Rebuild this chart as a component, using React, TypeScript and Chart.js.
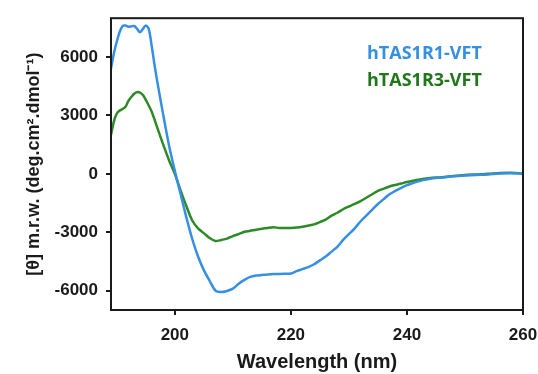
import React, { useEffect, useRef } from "react";
import { Chart, registerables } from "chart.js";

Chart.register(...registerables);

const r1Wavelength = [189, 189.5, 190, 190.5, 191, 191.5, 192, 192.5, 193, 193.5, 194, 194.5, 195, 195.5, 196, 196.5, 197, 198, 199, 200, 201, 202, 203, 204, 205, 206, 207, 208, 209, 210, 211, 212, 213, 214, 215, 216, 217, 218, 219, 220, 221, 222, 223, 224, 225, 226, 227, 228, 229, 230, 231, 232, 233, 234, 235, 236, 237, 238, 239, 240, 241, 242, 243, 244, 246, 248, 250, 252, 254, 256, 258, 260];
const r1Values = [5400, 6200, 6800, 7300, 7600, 7620, 7560, 7580, 7600, 7450, 7280, 7450, 7630, 7450, 6600, 5600, 4700, 3030, 1460, 150, -1050, -2250, -3350, -4250, -4950, -5500, -6000, -6080, -6020, -5900, -5650, -5450, -5300, -5230, -5200, -5170, -5150, -5150, -5140, -5120, -5000, -4900, -4800, -4650, -4450, -4250, -4000, -3750, -3400, -3100, -2800, -2450, -2150, -1850, -1550, -1300, -1050, -880, -720, -580, -480, -390, -310, -250, -190, -130, -90, -60, -30, 20, 30, 0];

const r3Wavelength = [189, 189.5, 190, 190.5, 191, 191.5, 192, 192.5, 193, 193.5, 194, 194.5, 195, 196, 197, 198, 199, 200, 201, 202, 203, 204, 205, 206, 207, 208, 209, 210, 211, 212, 213, 214, 215, 216, 217, 218, 219, 220, 221, 222, 223, 224, 225, 226, 227, 228, 229, 230, 231, 232, 233, 234, 235, 236, 237, 238, 239, 240, 241, 242, 243, 244, 246, 248, 250, 252, 254, 256, 258, 260];
const r3Values = [2000, 2700, 3100, 3250, 3330, 3450, 3750, 3950, 4120, 4200, 4170, 4050, 3800, 3200, 2350, 1500, 700, 0, -860, -1670, -2400, -2800, -3050, -3300, -3450, -3400, -3330, -3200, -3100, -2980, -2930, -2870, -2820, -2780, -2750, -2780, -2780, -2780, -2760, -2720, -2660, -2600, -2480, -2350, -2150, -2000, -1820, -1680, -1550, -1400, -1230, -1050, -880, -760, -650, -570, -500, -420, -360, -300, -250, -210, -170, -110, -60, -30, 0, 40, 50, 20];

const xTicks = [200, 220, 240, 260];
const yTicks = [-6000, -3000, 0, 3000, 6000];
const seriesNames = ["hTAS1R1-VFT", "hTAS1R3-VFT"];

const BLUE = "#3590e3";
const GREEN = "#2d8a26";
const LEGEND_GREEN = "#21761c";
const INK = "#1a1a1a";

const framePlugin = {
  id: "frame",
  afterDraw(chart: any) {
    const { ctx, chartArea } = chart;
    ctx.save();
    ctx.strokeStyle = INK;
    ctx.lineWidth = 2;
    ctx.strokeRect(chartArea.left, chartArea.top, chartArea.right - chartArea.left, chartArea.bottom - chartArea.top);
    ctx.font = "bold 18px 'Open Sans'";
    ctx.textBaseline = "alphabetic";
    ctx.textAlign = "left";
    ctx.fillStyle = BLUE;
    ctx.fillText(seriesNames[0], 367, 59);
    ctx.fillStyle = LEGEND_GREEN;
    ctx.fillText(seriesNames[1], 367, 86);
    ctx.restore();
  },
};

export default function App() {
  const ref = useRef<HTMLCanvasElement | null>(null);
  useEffect(() => {
    if (!ref.current) return;
    const tickFont = { family: "'Liberation Sans', Arial, sans-serif", size: 17, weight: "bold" as const };
    const chart = new Chart(ref.current, {
      type: "line",
      data: {
        datasets: [
          {
            label: seriesNames[0],
            data: r1Wavelength.map((x, i) => ({ x, y: r1Values[i] })),
            borderColor: BLUE,
            borderWidth: 2.5,
            pointRadius: 0,
            tension: 0.3,
            fill: false,
          },
          {
            label: seriesNames[1],
            data: r3Wavelength.map((x, i) => ({ x, y: r3Values[i] })),
            borderColor: GREEN,
            borderWidth: 2.5,
            pointRadius: 0,
            tension: 0.3,
            fill: false,
          },
        ],
      },
      options: {
        animation: false,
        responsive: true,
        maintainAspectRatio: false,
        layout: { padding: { top: 15, right: 15, left: 0, bottom: 0 } },
        plugins: { legend: { display: false }, tooltip: { enabled: false } },
        scales: {
          x: {
            type: "linear",
            min: 189,
            max: 260,
            afterBuildTicks: (scale: any) => {
              scale.ticks = xTicks.map((v) => ({ value: v }));
            },
            afterFit: (scale: any) => {
              scale.height = 64;
              scale.paddingRight = 0;
              scale.paddingLeft = 0;
            },
            grid: { drawOnChartArea: false, drawTicks: true, tickLength: 5, color: INK, lineWidth: 2 },
            border: { display: false },
            ticks: { font: tickFont, color: INK, padding: 10, maxRotation: 0, callback: (v: any) => String(v) },
            title: {
              display: true,
              text: "Wavelength (nm)",
              font: { family: "'Liberation Sans', Arial, sans-serif", size: 20, weight: "bold" },
              color: INK,
              padding: { top: 0, bottom: 0 },
            },
          },
          y: {
            type: "linear",
            min: -7000,
            max: 8000,
            afterBuildTicks: (scale: any) => {
              scale.ticks = yTicks.map((v) => ({ value: v }));
            },
            afterFit: (scale: any) => {
              scale.width = 111;
            },
            grid: { drawOnChartArea: false, drawTicks: true, tickLength: 5, color: INK, lineWidth: 2 },
            border: { display: false },
            ticks: { font: tickFont, color: INK, padding: 8, callback: (v: any) => String(v) },
            title: {
              display: true,
              text: "[θ] m.r.w. (deg.cm².dmol⁻¹)",
              font: { family: "'Liberation Sans', Arial, sans-serif", size: 18, weight: "bold" },
              color: INK,
              padding: { top: 23, bottom: 0 },
            },
          },
        },
      },
      plugins: [framePlugin],
    });
    return () => chart.destroy();
  }, []);
  return (
    <div style={{ position: "fixed", left: 0, top: 0, width: 538, height: 374, background: "#fff" }}>
      <canvas ref={ref} />
    </div>
  );
}
